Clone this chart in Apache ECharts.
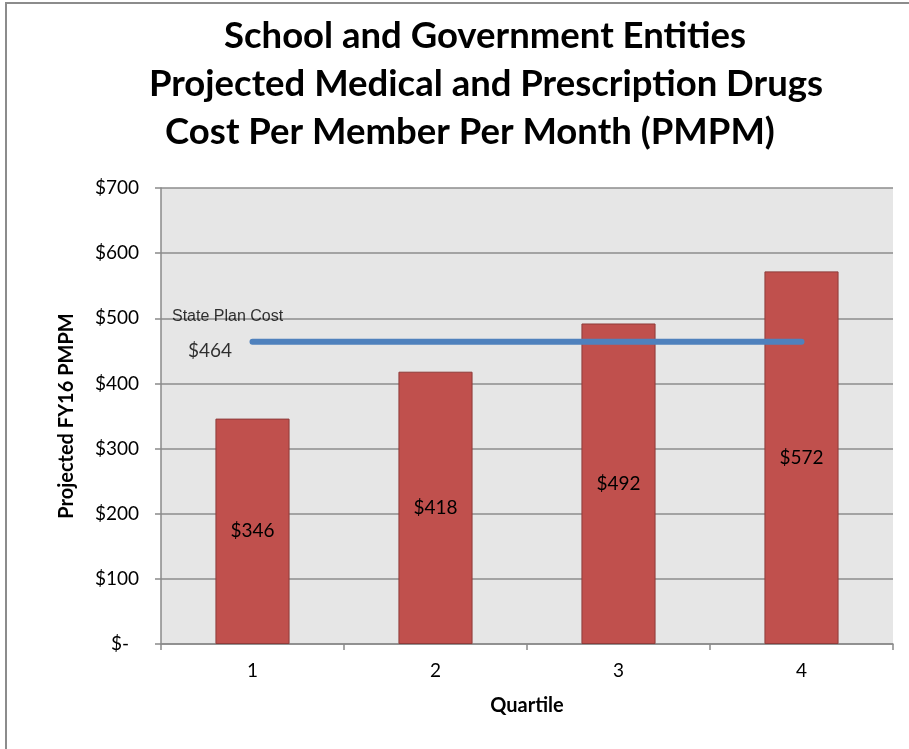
<!DOCTYPE html>
<html>
<head>
<meta charset="utf-8">
<script src="https://cdn.jsdelivr.net/npm/echarts@6/dist/echarts.min.js"></script>
<style>
  html, body { margin: 0; padding: 0; background: #ffffff; }
  #chart { width: 909px; height: 749px; }
</style>
</head>
<body>
<div id="chart"></div>
<script>
// Quartile categories and projected FY16 PMPM cost per quartile
const quartiles = ['1', '2', '3', '4'];
const pmpmValues = [346, 418, 492, 572];
// State plan benchmark cost, drawn flat across all quartiles
const statePlanName = 'State Plan Cost';
const statePlanCost = 464;
const statePlanValues = [464, 464, 464, 464];
// Value axis ticks
const yTicks = [0, 100, 200, 300, 400, 500, 600, 700];

const titleLines = [
  'School and Government Entities',
  'Projected Medical and Prescription Drugs',
  'Cost Per Member Per Month (PMPM)'
];
const titleCenters = [480, 481, 465];

const FONT = 'Lato, "Open Sans", sans-serif';
const chart = echarts.init(document.getElementById('chart'), null, { renderer: 'canvas' });

const option = {
  backgroundColor: '#ffffff',
  animation: false,
  graphic: [{
    type: 'rect',
    shape: { x: 6, y: 3, width: 1000, height: 1000 },
    style: { fill: 'none', stroke: '#8c8c8c', lineWidth: 2 },
    silent: true,
    z: -10
  }],
  title: titleLines.map((t, i) => ({
    text: t,
    left: titleCenters[i],
    top: 13 + i * 48,
    textAlign: 'center',
    textStyle: { fontFamily: FONT, fontSize: 36.5, fontWeight: 'bold', color: '#000000' }
  })),
  grid: {
    left: 161, right: 16, top: 188, bottom: 105,
    show: true, backgroundColor: '#e6e6e6', borderWidth: 0
  },
  xAxis: {
    type: 'category',
    data: quartiles,
    name: 'Quartile',
    nameLocation: 'middle',
    nameGap: 52,
    nameTextStyle: { fontFamily: FONT, fontSize: 20, fontWeight: 'bold', color: '#000' },
    axisLine: { show: true, lineStyle: { color: '#8a8a8a', width: 1.5 } },
    axisTick: { show: true, length: 6, lineStyle: { color: '#8a8a8a', width: 1.5 } },
    axisLabel: { fontFamily: FONT, fontSize: 19, color: '#000', margin: 17 }
  },
  yAxis: {
    type: 'value',
    min: yTicks[0],
    max: yTicks[yTicks.length - 1],
    interval: 100,
    name: 'Projected FY16 PMPM',
    nameLocation: 'middle',
    nameGap: 84,
    nameTextStyle: { fontFamily: FONT, fontSize: 20, fontWeight: 'bold', color: '#000' },
    axisLine: { show: true, lineStyle: { color: '#8a8a8a', width: 1.5 } },
    axisTick: { show: true, length: 6, lineStyle: { color: '#8a8a8a', width: 1.5 } },
    splitLine: { show: true, lineStyle: { color: '#8c8c8c', width: 1.5 } },
    axisLabel: {
      fontFamily: FONT, fontSize: 19, color: '#000', margin: 22,
      formatter: v => v === 0 ? '{z|$-}' : '$' + v,
      rich: { z: { fontFamily: FONT, fontSize: 19, color: '#000', padding: [0, 10, 0, 0] } }
    }
  },
  series: [
    {
      type: 'bar',
      data: pmpmValues,
      barWidth: '40.5%',
      itemStyle: { color: '#c0504d', borderColor: '#8e3b39', borderWidth: 1 },
      label: {
        show: true, position: 'inside',
        fontFamily: FONT, fontSize: 19, color: '#000',
        formatter: p => '$' + p.value
      },
      z: 2
    },
    {
      type: 'line',
      name: statePlanName,
      data: statePlanValues,
      showSymbol: false,
      symbol: 'none',
      lineStyle: { color: '#4f81bd', width: 6, cap: 'round' },
      z: 5
    },
    {
      // caption for the state plan line, anchored at its first point
      type: 'scatter',
      data: [[0, statePlanCost]],
      symbolSize: 1,
      itemStyle: { color: 'rgba(0,0,0,0)' },
      silent: true,
      z: 6,
      label: {
        show: true,
        position: [-80, -35],
        align: 'left',
        verticalAlign: 'top',
        formatter: '{n|' + statePlanName + '}\n{v|$' + statePlanCost + '}',
        rich: {
          n: { fontFamily: '"Liberation Sans", Arial, sans-serif', fontSize: 16, color: '#000', lineHeight: 20, letterSpacing: -0.3 },
          v: { fontFamily: FONT, fontSize: 19, color: '#000', lineHeight: 50, padding: [0, 0, 0, 16] }
        }
      }
    }
  ]
};

chart.setOption(option);
</script>
</body>
</html>
